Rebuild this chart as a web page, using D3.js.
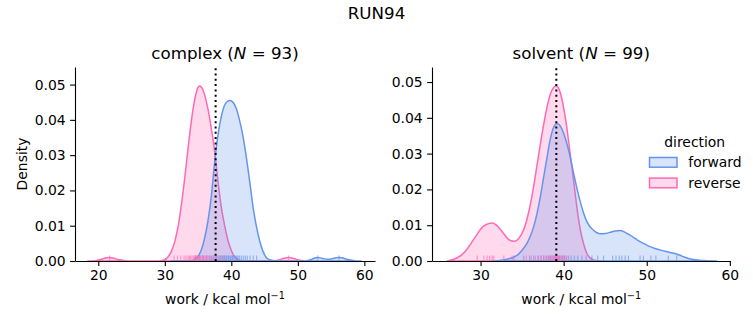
<!DOCTYPE html>
<html>
<head>
<meta charset="utf-8">
<script src="https://cdn.jsdelivr.net/npm/d3@7"></script>
<style>
  html, body { margin: 0; padding: 0; background: #fff; }
  svg text { font-family: "DejaVu Sans", sans-serif; fill: #000; }
</style>
</head>
<body>
<svg id="chart" width="753" height="325"></svg>
<script>
// work distributions, KDE curves as [work, density]
const complexForward = [
  [31, 0], [34, 0.0001], [34.5, 0.0004], [35, 0.0013], [35.5, 0.0032], [36, 0.0066],
  [36.5, 0.0115], [37, 0.0185], [37.5, 0.0280], [38, 0.0358], [38.5, 0.0410], [39, 0.0442],
  [39.4, 0.0452], [39.8, 0.0455], [40.2, 0.0451], [40.75, 0.0432], [41.25, 0.0398],
  [41.75, 0.0354], [42.25, 0.0295], [42.75, 0.0228], [43.25, 0.0155], [43.75, 0.0100],
  [44.25, 0.0058], [44.75, 0.0028], [45.25, 0.0010], [45.75, 0.0004], [46.5, 0.0001],
  [47.5, 0], [51, 0], [51.8, 0.0003], [52.5, 0.0008], [53, 0.0010], [53.6, 0.0008],
  [54.5, 0.0005], [55.3, 0.0007], [56, 0.0010], [56.6, 0.0009], [57.5, 0.0004],
  [58.5, 0.0001], [59.5, 0]
];
const complexReverse = [
  [18.4, 0], [19.5, 0.0001], [20.5, 0.0005], [21.2, 0.0009], [21.7, 0.0010], [22.3, 0.0008],
  [23, 0.0004], [24, 0.0001], [25, 0], [29, 0], [29.8, 0.0002], [30.5, 0.0012], [31, 0.0028],
  [31.5, 0.0055], [32, 0.0098], [32.5, 0.0160], [33, 0.0236], [33.5, 0.0320], [34, 0.0398],
  [34.5, 0.0458], [35, 0.0492], [35.2, 0.0496], [35.6, 0.0490], [36, 0.0470], [36.5, 0.0430],
  [37, 0.0375], [37.5, 0.0310], [38, 0.0225], [38.5, 0.0152], [39, 0.0100], [39.5, 0.0058],
  [40, 0.0030], [40.5, 0.0012], [41, 0.0004], [41.5, 0.0001], [42, 0], [46, 0],
  [47, 0.0002], [47.8, 0.0007], [48.6, 0.0010], [49.4, 0.0007], [50.2, 0.0002], [51, 0]
];
const solventForward = [
  [31.5, 0], [32.5, 0.0002], [33.2, 0.0005], [33.8, 0.0009], [34.4, 0.0016], [35, 0.0030],
  [35.6, 0.0050], [36, 0.0070], [36.4, 0.0096], [36.8, 0.0133], [37.2, 0.0180], [37.6, 0.0235],
  [38, 0.0289], [38.3, 0.0330], [38.6, 0.0360], [38.9, 0.0378], [39.2, 0.0384], [39.5, 0.0380],
  [39.8, 0.0368], [40.1, 0.0350], [40.6, 0.0310], [41.2, 0.0245], [41.6, 0.0203], [42, 0.0166],
  [42.4, 0.0134], [42.8, 0.0110], [43.2, 0.0095], [43.6, 0.0086], [44, 0.0079], [44.4, 0.0076],
  [45, 0.0077], [45.6, 0.0080], [46.2, 0.0084], [46.8, 0.0085], [47.4, 0.0080], [48, 0.0072],
  [48.6, 0.0063], [49.2, 0.0054], [49.8, 0.0047], [50.4, 0.0040], [51, 0.0035], [51.6, 0.0031],
  [52.2, 0.0027], [52.8, 0.0024], [53.4, 0.0021], [54, 0.0016], [54.5, 0.0011], [55, 0.0007],
  [55.6, 0.0004], [56.3, 0.0002], [57.2, 0.0001], [58.4, 0]
];
const solventReverse = [
  [26, 0], [26.8, 0.0005], [27.6, 0.0015], [28.2, 0.0028], [28.8, 0.0047], [29.4, 0.0068],
  [30, 0.0089], [30.7, 0.0102], [31.4, 0.0106], [32.1, 0.0096], [32.8, 0.0076], [33.4, 0.0060],
  [34.07, 0.0055], [34.6, 0.0063], [35.2, 0.0088], [35.6, 0.0118], [36, 0.0159], [36.4, 0.0210],
  [36.8, 0.0268], [37.2, 0.0327], [37.6, 0.0382], [38, 0.0430], [38.4, 0.0466], [38.8, 0.0485],
  [39.1, 0.0489], [39.45, 0.0480], [39.8, 0.0452], [40.1, 0.0415], [40.4, 0.0370], [40.7, 0.0315],
  [41, 0.0262], [41.3, 0.0205], [41.6, 0.0150], [42, 0.0088], [42.4, 0.0048], [42.8, 0.0021],
  [43.2, 0.0008], [43.7, 0.0002], [44.5, 0]
];

// individual work values (rug)
const complexForwardRug = [34.6, 35.2, 35.8, 36.3, 36.7, 37.0, 37.3, 37.6, 37.8, 38.0, 38.2, 38.4,
  38.6, 38.7, 38.9, 39.0, 39.2, 39.3, 39.5, 39.6, 39.8, 39.9, 40.1, 40.2, 40.4, 40.6, 40.8, 41.0,
  41.2, 41.5, 41.8, 42.1, 42.4, 42.8, 43.3, 43.8, 53.0, 56.2];
const complexReverseRug = [21.7, 31.4, 31.9, 32.4, 32.9, 33.2, 33.5, 33.7, 33.9, 34.1, 34.3, 34.5,
  34.6, 34.8, 34.9, 35.0, 35.1, 35.3, 35.4, 35.6, 35.7, 35.9, 36.1, 36.3, 36.5, 36.8, 37.1, 37.4,
  37.8, 38.3, 38.9, 48.6];
const solventForwardRug = [34.0, 35.2, 35.9, 36.4, 36.9, 37.3, 37.6, 37.9, 38.2, 38.4, 38.6, 38.8,
  39.0, 39.1, 39.3, 39.5, 39.7, 39.9, 40.1, 40.3, 40.6, 40.9, 41.3, 41.7, 42.2, 42.7, 43.4, 44.1,
  44.8, 45.9, 46.3, 46.7, 47.0, 47.4, 47.8, 49.2, 49.6, 50.5, 51.1, 52.6, 53.6];
const solventReverseRug = [29.6, 30.4, 30.8, 31.1, 31.4, 31.6, 32.8, 33.8, 35.5, 36.1, 36.6, 37.0,
  37.3, 37.6, 37.9, 38.1, 38.3, 38.5, 38.7, 38.9, 39.0, 39.1, 39.2, 39.3, 39.4, 39.5, 39.7, 39.9,
  40.1, 40.4];

// mean work (dotted line), ticks, titles
const meanWork = [37.64, 39.12];
const panelNames = ['complex', 'solvent'];
const panelN = [93, 99];
const xTicks = [[20, 30, 40, 50, 60], [30, 40, 50, 60]];
const yTicks = [0, 0.01, 0.02, 0.03, 0.04, 0.05];
const directions = ['forward', 'reverse'];

const COLOR = { forward: '#6495ed', reverse: '#ff69b4' };
const FS = 13.9;

const svg = d3.select('#chart');

svg.append('text').attr('x', 376.5).attr('y', 19)
  .attr('text-anchor', 'middle').attr('font-size', 16.7).text('RUN94');

const panels = [
  { left: 75, right: 375, xDomain: [16.5, 61.6], yMax: 0.05498,
    curves: { forward: complexForward, reverse: complexReverse },
    rugs: { forward: complexForwardRug, reverse: complexReverseRug } },
  { left: 432, right: 730.5, xDomain: [24.16, 60.08], yMax: 0.0542,
    curves: { forward: solventForward, reverse: solventReverse },
    rugs: { forward: solventForwardRug, reverse: solventReverseRug } }
];
const TOP = 67, BOTTOM = 261;

panels.forEach((p, i) => {
  const x = d3.scaleLinear().domain(p.xDomain).range([p.left, p.right]);
  const y = d3.scaleLinear().domain([0, p.yMax]).range([BOTTOM, TOP]);
  const g = svg.append('g');

  const area = d3.area()
    .x(d => x(d[0])).y0(y(0)).y1(d => y(d[1]))
    .curve(d3.curveMonotoneX);

  // reverse is layered underneath forward
  ['reverse', 'forward'].forEach(dir => {
    g.append('path').datum(p.curves[dir])
      .attr('d', area)
      .attr('fill', COLOR[dir]).attr('fill-opacity', 0.25)
      .attr('stroke', COLOR[dir]).attr('stroke-width', 1.5)
      .attr('stroke-linejoin', 'round');
  });

  // rug ticks along the bottom
  ['forward', 'reverse'].forEach(dir => {
    g.append('g').selectAll('line').data(p.rugs[dir]).enter().append('line')
      .attr('x1', d => x(d)).attr('x2', d => x(d))
      .attr('y1', BOTTOM).attr('y2', BOTTOM - 5.5)
      .attr('stroke', COLOR[dir]).attr('stroke-opacity', 0.6).attr('stroke-width', 1.2);
  });

  // mean work
  g.append('line')
    .attr('x1', x(meanWork[i])).attr('x2', x(meanWork[i]))
    .attr('y1', BOTTOM).attr('y2', TOP)
    .attr('stroke', '#000').attr('stroke-width', 2).attr('stroke-dasharray', '2,3.3');

  // axes (left + bottom spines only)
  const xAxis = g.append('g').attr('transform', `translate(0,${BOTTOM})`)
    .call(d3.axisBottom(x).tickValues(xTicks[i]).tickSize(4.9).tickPadding(4.5).tickSizeOuter(0));
  const yAxis = g.append('g').attr('transform', `translate(${p.left},0)`)
    .call(d3.axisLeft(y).tickValues(yTicks).tickFormat(d3.format('.2f'))
      .tickSize(4.9).tickPadding(4.5).tickSizeOuter(0));
  [xAxis, yAxis].forEach(a => {
    a.selectAll('path, line').attr('stroke', '#000').attr('stroke-width', 1.1);
    a.selectAll('text').attr('font-size', FS).attr('font-family', '"DejaVu Sans", sans-serif').attr('fill', '#000');
  });

  // panel title with italic N
  const t = g.append('text').attr('x', (p.left + p.right) / 2).attr('y', 59)
    .attr('text-anchor', 'middle').attr('font-size', 16.7);
  t.append('tspan').text(panelNames[i] + ' (');
  t.append('tspan').attr('font-style', 'italic').text('N');
  t.append('tspan').text(' = ' + panelN[i] + ')');

  // x label
  const xl = g.append('text').attr('x', (p.left + p.right) / 2).attr('y', 304)
    .attr('text-anchor', 'middle').attr('font-size', FS);
  xl.append('tspan').text('work / kcal mol');
  xl.append('tspan').attr('font-size', 9.7).attr('dy', -5.5).text('\u22121');
});

svg.append('text')
  .attr('transform', 'translate(27,164) rotate(-90)')
  .attr('text-anchor', 'middle').attr('font-size', FS).text('Density');

// legend
const legend = svg.append('g');
legend.append('text').attr('x', 694.7).attr('y', 146.5)
  .attr('text-anchor', 'middle').attr('font-size', FS).text('direction');
directions.forEach((dir, k) => {
  const yy = 157.5 + k * 20.6;
  legend.append('rect').attr('x', 649.5).attr('y', yy).attr('width', 27.5).attr('height', 9.7)
    .attr('fill', COLOR[dir]).attr('fill-opacity', 0.25)
    .attr('stroke', COLOR[dir]).attr('stroke-width', 1.5);
  legend.append('text').attr('x', 688.3).attr('y', yy + 9.7)
    .attr('font-size', FS).text(dir);
});
</script>
</body>
</html>
